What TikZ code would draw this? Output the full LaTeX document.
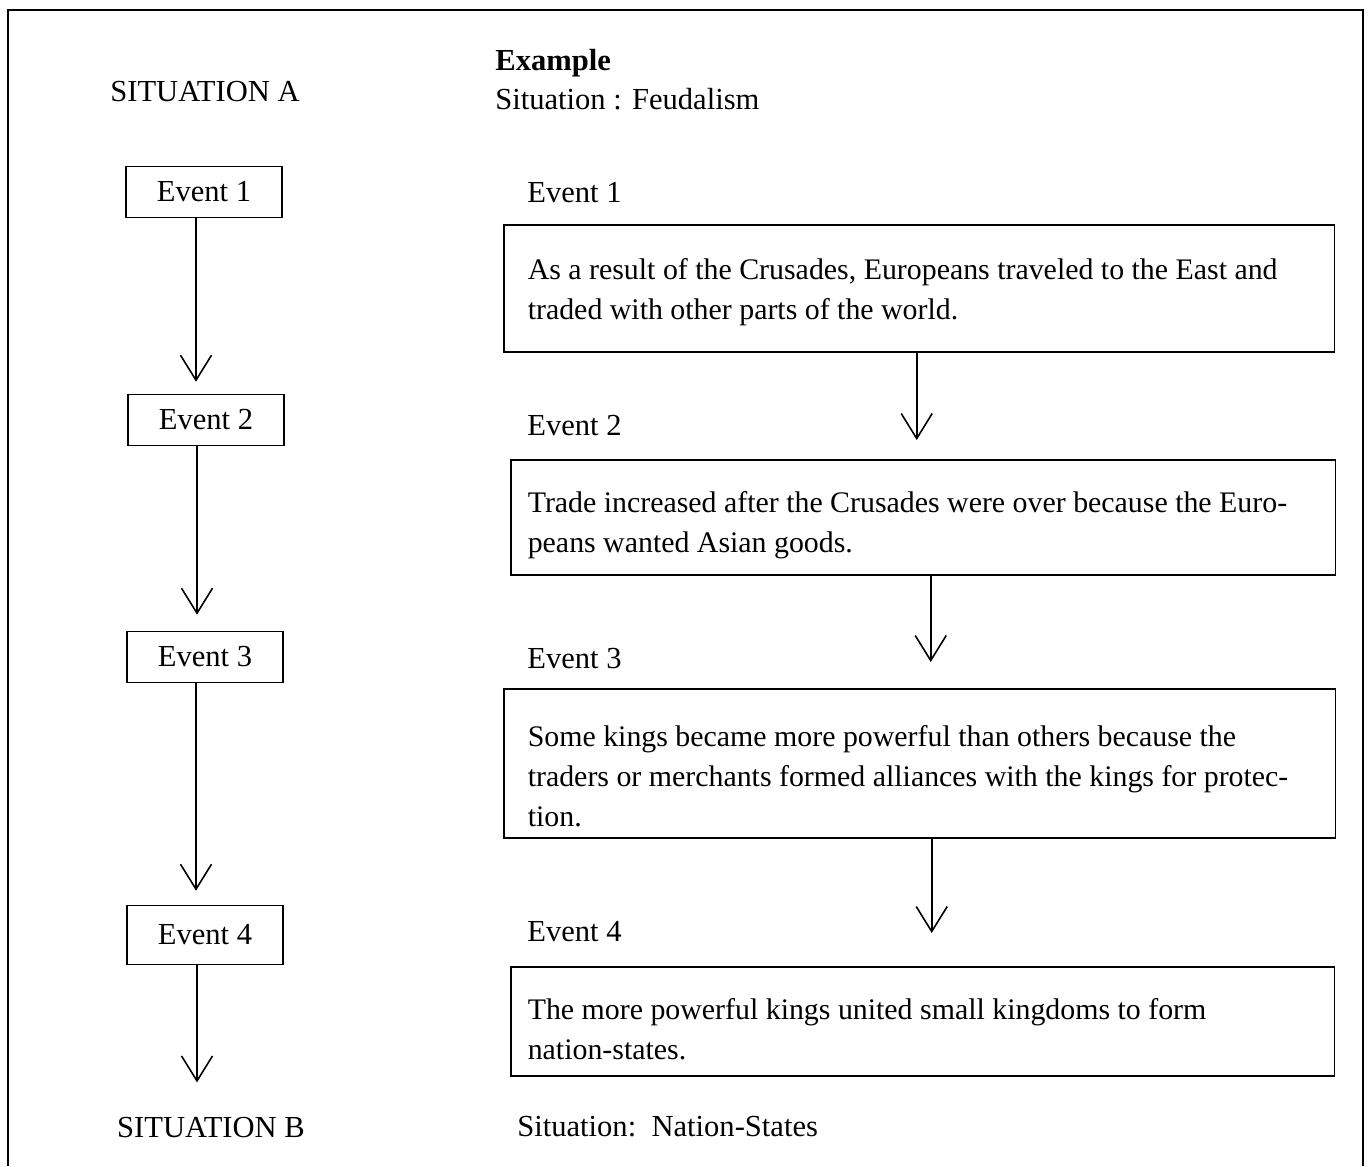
\documentclass[tikz,border=0pt]{standalone}
\usepackage{fontspec}
\setmainfont{Liberation Serif}
\usetikzlibrary{arrows.meta}

\tikzset{
  evbox/.style={draw, line width=0.9pt, minimum width=3.12cm, minimum height=1.02cm, inner sep=0pt},
  textbox/.style={draw, line width=0.9pt, align=flush left, inner xsep=0.24cm, inner ysep=0pt, anchor=north west,
    font=\fontsize{17}{22.8}\selectfont},
  flow/.style={line width=0.9pt, -{Straight Barb[length=0.5cm, width=0.62cm, line width=0.9pt]}},
  lbl/.style={anchor=base west, inner sep=0pt},
  sitlbl/.style={anchor=base, inner sep=0pt},
}

\begin{document}
\begin{tikzpicture}[x=0.02cm, y=-0.02cm, every node/.style={font=\fontsize{17.4}{22.8}\selectfont}]

\useasboundingbox (0,0) rectangle (1368,1166);

% ----------------------------------------------------
% frame
% ----------------------------------------------------
\draw[line width=1.1pt] (8,1166) -- (8,10) -- (1363,10) -- (1363,1166);

% ----------------------------------------------------
% 1. Left column: situation A to B
% ----------------------------------------------------
\node[sitlbl] (sitA) at (205,101) {SITUATION A};

\node[evbox] (e1) at (204,192) {Event 1};
\node[evbox] (e2) at (206,420) {Event 2};
\node[evbox] (e3) at (205,657) {Event 3};
\node[evbox, minimum height=1.18cm] (e4) at (205,935) {Event 4};

\node[sitlbl] (sitB) at (211,1137) {SITUATION B};

\coordinate (l1) at ([xshift=-0.16cm]e1.south);
\coordinate (l2) at ([xshift=-0.18cm]e2.south);
\coordinate (l3) at ([xshift=-0.18cm]e3.south);
\coordinate (l4) at ([xshift=-0.16cm]e4.south);

\draw[flow, shorten >=0.24cm] (l1) -- (l1 |- e2.north);
\draw[flow, shorten >=0.32cm] (l2) -- (l2 |- e3.north);
\draw[flow, shorten >=0.28cm] (l3) -- (l3 |- e4.north);
\draw[flow, shorten >=0.68cm] (l4) -- (l4 |- sitB.north);

% ----------------------------------------------------
% 2. Right column: example
% ----------------------------------------------------
\node[lbl] (exhead) at (495,71) {\textbf{Example}};
\node[lbl] (exsit) at (495,110) {Situation : Feudalism};

\node[lbl] (t1) at (527,202) {Event 1};
\node[textbox, text width=16.14cm, minimum height=2.54cm] (b1) at (503,224)
  {\leftskip=0.24cm As a result of the Crusades, Europeans traveled to the East and\\traded with other parts of the world.\par\kern-0.16cm};

\node[lbl] (t2) at (527,435) {Event 2};
\node[textbox, text width=16.02cm, minimum height=2.30cm] (b2) at (510,459)
  {\leftskip=0.1cm Trade increased after the Crusades were over because the Euro-\\peans wanted Asian goods.\par\kern-0.32cm};

\node[lbl] (t3) at (527,668) {Event 3};
\node[textbox, text width=16.16cm, minimum height=2.98cm] (b3) at (503,688)
  {\leftskip=0.24cm Some kings became more powerful than others because the\\traders or merchants formed alliances with the kings for protec-\\tion.\par\kern-0.52cm};

\node[lbl] (t4) at (527,941) {Event 4};
\node[textbox, text width=16.00cm, minimum height=2.18cm] (b4) at (510,966)
  {\leftskip=0.1cm The more powerful kings united small kingdoms to form\\nation-states.\par\kern-0.32cm};

\node[lbl] (exend) at (517,1136) {Situation:~~Nation-States};

\coordinate (r1) at ([xshift=-0.05cm]b1.south);
\coordinate (r2) at ([xshift=0.15cm]b2.south);
\coordinate (r3) at ([xshift=0.24cm]b3.south);

\draw[flow, shorten >=0.38cm] (r1) -- (r1 |- b2.north);
\draw[flow, shorten >=0.52cm] (r2) -- (r2 |- b3.north);
\draw[flow, shorten >=0.66cm] (r3) -- (r3 |- b4.north);

\end{tikzpicture}
\end{document}
